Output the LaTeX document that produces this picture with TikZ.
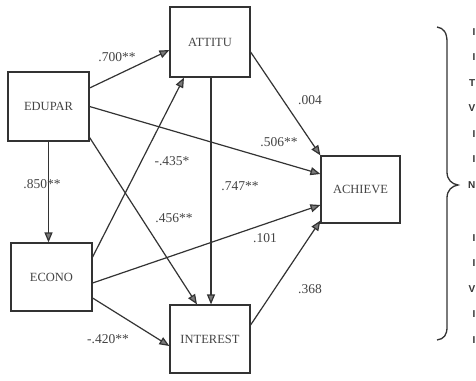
\documentclass[tikz,border=0pt]{standalone}
\usepackage{fontspec}
\setmainfont{Liberation Serif}
\newfontfamily\edgefont{Liberation Sans}
\usetikzlibrary{arrows.meta,calc}
\definecolor{ink}{HTML}{333333}
\definecolor{txt}{HTML}{444444}
\definecolor{headfill}{HTML}{7A7A7A}
\tikzset{
  varbox/.style={draw=ink, line width=1.2pt, inner sep=0pt, text=txt,
    font=\fontsize{12.5}{14}\selectfont},
  path/.style={draw=ink, line width=1.2pt,
    -{Triangle[length=10pt,width=8pt,fill=headfill]}},
  coef/.style={text=txt, inner sep=0pt, font=\fontsize{13.5}{15}\selectfont},
  edgetxt/.style={anchor=east, inner sep=0pt, text=ink,
    font=\edgefont\bfseries\fontsize{10}{11}\selectfont}
}
\begin{document}
\begin{tikzpicture}[x=1pt, y=-1pt]
  \fill[white] (0,0) rectangle (476,380);
  \useasboundingbox (0,0) rectangle (476,380);

  % variables
  \node[varbox, minimum width=81pt, minimum height=69pt] (edupar)   at (48.5,106.5) {EDUPAR};
  \node[varbox, minimum width=80pt, minimum height=70pt] (attitu)   at (210,42)     {ATTITU};
  \node[varbox, minimum width=81pt, minimum height=68pt] (econo)    at (51.5,277)   {ECONO};
  \node[varbox, minimum width=80pt, minimum height=68pt] (interest) at (210,339)    {INTEREST};
  \node[varbox, minimum width=79pt, minimum height=67pt] (achieve)  at (360.5,189.5){ACHIEVE};

  % paths
  \draw[path] ([yshift=18.5pt]edupar.east) -- ([yshift=-8pt]attitu.west);
  \draw[path] (edupar.east) -- ([yshift=15.5pt]achieve.west);
  \draw[path] ([yshift=-31pt]edupar.east) -- ([xshift=-13pt]interest.north);
  \draw[path] (edupar.south) -- (edupar.south |- econo.north);
  \draw[path] ([yshift=20pt]econo.east) -- ([xshift=-26pt]attitu.south);
  \draw[path] ([yshift=-6pt]econo.east) -- ([yshift=-15.5pt]achieve.west);
  \draw[path] ([yshift=-21pt]econo.east) -- ([yshift=-7pt]interest.west);
  \draw[path] ([xshift=1pt]attitu.south) -- ([xshift=1pt]attitu.south |- interest.north);
  \draw[path] ([yshift=-10pt]attitu.east) -- (achieve.north west);
  \draw[path] ([yshift=14pt]interest.east) -- ([yshift=3pt]achieve.south west);

  % coefficients
  \node[coef] (c1)  at (117,57)  {.700**};
  \node[coef] (c2)  at (42,184)  {.850**};
  \node[coef] (c3)  at (172,161) {-.435*};
  \node[coef] (c4)  at (174,218) {.456**};
  \node[coef] (c5)  at (240,186) {.747**};
  \node[coef] (c6)  at (108,339) {-.420**};
  \node[coef] (c7)  at (310,100) {.004};
  \node[coef] (c8)  at (279,142) {.506**};
  \node[coef] (c9)  at (265,238) {.101};
  \node[coef] (c10) at (310,289) {.368};

  % brace
  \draw[ink, line width=1.3pt]
    (437,27) .. controls (444,28) and (447,33) .. (447,42)
    -- (447,172) .. controls (447,180) and (452,184) .. (458,185)
    .. controls (452,186) and (447,190) .. (447,198)
    -- (447,327) .. controls (447,335) and (444,339) .. (437,340);

  % first letters of the lines beside the brace
  \foreach \y/\t [count=\i] in {32/I, 57.5/I, 83/T, 108.5/V, 134/I, 159.5/I, 185/N,
                                238/I, 263.5/I, 289/V, 314.5/I, 340/I}
    \node[edgetxt] (e\i) at (475.5,\y) {\t};
\end{tikzpicture}
\end{document}
